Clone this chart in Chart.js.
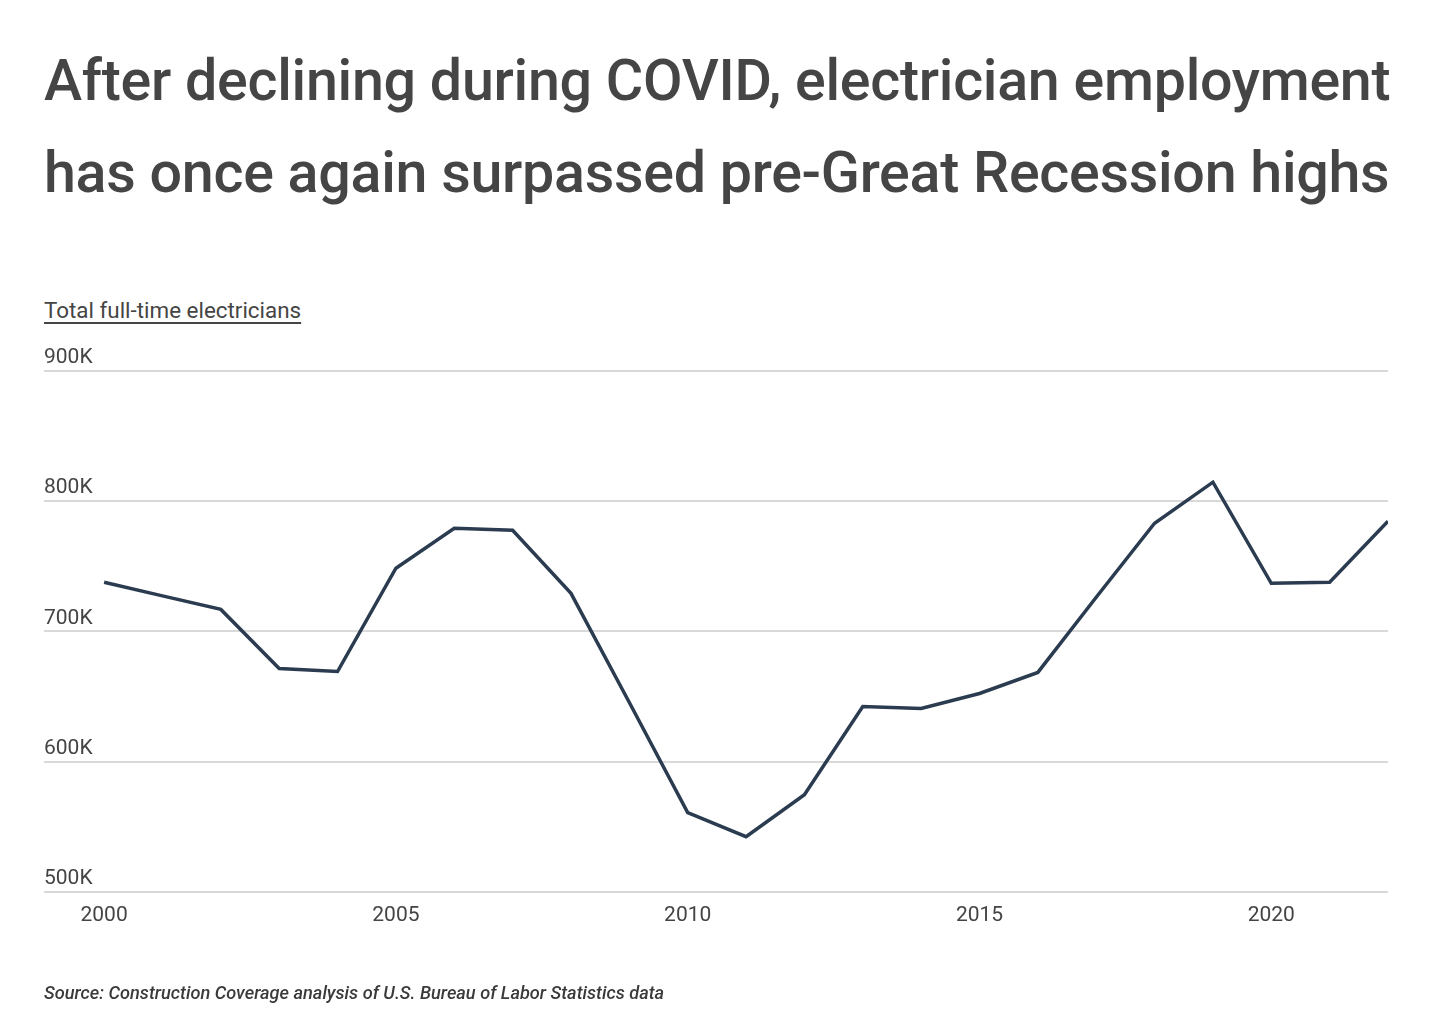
<!DOCTYPE html>
<html>
<head>
<meta charset="utf-8">
<script src="https://cdn.jsdelivr.net/npm/chart.js@4.4.1/dist/chart.umd.min.js"></script>
<style>
	html, body { margin: 0; padding: 0; background: #fff; }
	body { width: 1450px; height: 1012px; position: relative; overflow: hidden; font-family: Roboto, "Noto Sans", sans-serif; color: #454545; }
	#title { position: absolute; left: 44px; top: 35px; margin: 0; font-size: 57.4px; font-weight: 500; line-height: 92px; letter-spacing: -0.28px; }
	#subtitle { position: absolute; left: 44px; top: 297px; font-size: 22.4px; text-decoration: underline; text-underline-offset: 4px; }
	#source { position: absolute; left: 44px; top: 982px; font-size: 18.2px; font-style: italic; font-weight: 500; color: #3a3a3a; }
	#wrap { position: absolute; left: 0; top: 0; width: 1450px; height: 1012px; }
</style>
</head>
<body>
<h1 id="title">After declining during COVID, electrician employment<br>has once again surpassed pre-Great Recession highs</h1>
<div id="subtitle">Total full-time electricians</div>
<div id="wrap"><canvas id="chart"></canvas></div>
<div id="source">Source: Construction Coverage analysis of U.S. Bureau of Labor Statistics data</div>

<script>
const years = [2000, 2001, 2002, 2003, 2004, 2005, 2006, 2007, 2008, 2009, 2010, 2011,
	2012, 2013, 2014, 2015, 2016, 2017, 2018, 2019, 2020, 2021, 2022];
const electricians = [737700, 727300, 716900, 671500, 669200, 748500, 779200, 777700, 729200,
	645400, 560800, 542300, 574600, 642300, 640800, 652300, 668500, 726200, 783100, 814600,
	736900, 737700, 784600];
const xTicks = [2000, 2005, 2010, 2015, 2020];
const yTicks = [500000, 600000, 700000, 800000, 900000];

function plotElectricians()
{
	const ctx = document.getElementById("chart").getContext("2d");

	new Chart(ctx, {
		type: "line",
		data: {
			datasets: [{
				data: years.map((y, i) => ({ x: y, y: electricians[i] })),
				borderColor: "#2b3c50",
				borderWidth: 3.5,
				pointRadius: 0,
				tension: 0,
				borderJoinStyle: "miter"
			}]
		},
		options: {
			responsive: true,
			maintainAspectRatio: false,
			animation: false,
			layout: { padding: { left: 44, right: 62, top: 371, bottom: 73 } },
			plugins: {
				legend: { display: false },
				tooltip: { enabled: false }
			},
			scales: {
				x: {
					type: "linear",
					min: 1998.97,
					max: 2022,
					afterBuildTicks: scale => { scale.ticks = xTicks.map(v => ({ value: v })); },
					grid: { display: false, drawTicks: false },
					border: { display: false },
					ticks: {
						padding: 11,
						color: "#444",
						font: { family: "Roboto", size: 21 },
						maxRotation: 0,
						callback: v => String(v)
					}
				},
				y: {
					min: 500000,
					max: 900000,
					afterBuildTicks: scale => { scale.ticks = yTicks.map(v => ({ value: v })); },
					grid: { color: "#d9d9d9", lineWidth: 2, drawTicks: false },
					border: { display: false },
					ticks: {
						mirror: true,
						padding: 0,
						labelOffset: -13,
						color: "#444",
						font: { family: "Roboto", size: 21 },
						callback: v => (v / 1000) + "K"
					}
				}
			}
		}
	});
}

plotElectricians();
</script>
</body>
</html>
